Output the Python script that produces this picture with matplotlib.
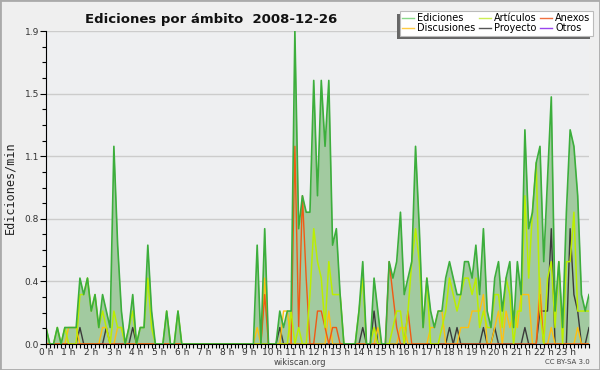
import numpy as np
import matplotlib
matplotlib.use('Agg')
import matplotlib.pyplot as plt
from matplotlib.patches import Rectangle
from matplotlib.ticker import FixedLocator, MultipleLocator

# ediciones por minuto, un valor cada 10 minutos (00:00 .. 24:00)
ediciones = ([0.1, 0, 0, 0.1, 0, 0.1, 0.1, 0.1, 0.1, 0.4, 0.3, 0.4,
              0.2, 0.3, 0.1, 0.3, 0.2, 0.1, 1.2, 0.6, 0.2, 0, 0.1, 0.3,
              0, 0.1, 0.1, 0.6, 0.2, 0, 0, 0, 0.2, 0, 0, 0.2]
             + [0] * 20 +
             [0.6, 0, 0.7, 0,
              0, 0, 0.2, 0.1, 0.2, 0.2, 1.9, 0.7, 0.9, 0.8, 0.8, 1.6,
              0.9, 1.6, 1.2, 1.6, 0.6, 0.7, 0.3, 0, 0, 0, 0, 0.2,
              0.5, 0, 0, 0.4, 0.2, 0, 0, 0.5, 0.4, 0.5, 0.8, 0.3,
              0.4, 0.5, 1.2, 0.7, 0.1, 0.4, 0.2, 0.1, 0.2, 0.2, 0.4, 0.5,
              0.4, 0.3, 0.3, 0.5, 0.5, 0.4, 0.6, 0.3, 0.7, 0.2, 0.1, 0.4,
              0.5, 0.2, 0.4, 0.5, 0.1, 0.5, 0.3, 1.3, 0.7, 0.8, 1.1, 1.2,
              0.5, 1.0, 1.5, 0.2, 0.5, 0.1, 0.8, 1.3, 1.2, 0.9, 0.3, 0.2,
              0.3])

articulos = ([0.1, 0, 0, 0.1, 0, 0.1, 0, 0, 0, 0.3, 0.3, 0.4,
              0.2, 0.3, 0.1, 0.2, 0.1, 0, 0.2, 0.1, 0.1, 0, 0.1, 0.2,
              0, 0.1, 0.1, 0.4, 0.1, 0, 0, 0, 0.2, 0, 0, 0.2]
             + [0] * 29 +
             [0.2, 0, 0.1, 0, 0, 0.3, 0.7,
              0.5, 0.4, 0.1, 0.5, 0.3, 0.3, 0.3, 0, 0, 0, 0, 0.2,
              0.4, 0, 0, 0.1, 0, 0, 0, 0, 0.1, 0.2, 0.2, 0,
              0.2, 0.5, 0.7, 0.5, 0.1, 0.4, 0, 0, 0, 0.1, 0.2, 0.4,
              0.3, 0.2, 0.3, 0.4, 0.4, 0.3, 0.4, 0.1, 0.2, 0.1, 0.1, 0.3,
              0.3, 0.1, 0.4, 0.3, 0, 0.2, 0.2, 0.9, 0.4, 0.8, 1.1, 0.2,
              0, 0.4, 0.5, 0.1, 0.5, 0, 0.5, 0.5, 0.8, 0.2, 0.2, 0.2,
              0.2])

anexos = ([0] * 58 +
          [0.3, 0,
           0, 0, 0, 0, 0, 0, 1.2, 0.1, 0.9, 0.4, 0, 0,
           0.2, 0.2, 0.1, 0, 0.1, 0.1, 0, 0, 0, 0, 0, 0,
           0, 0, 0, 0, 0, 0, 0, 0.5, 0.3, 0.1, 0, 0,
           0.2] + [0] * 34 + [0.3] + [0] * 13)

discusiones = ([0, 0, 0, 0, 0, 0, 0.1, 0.1, 0.1, 0, 0, 0,
                0, 0, 0, 0.1, 0.1, 0, 0, 0.1, 0.1, 0, 0, 0]
               + [0] * 32 +
               [0.1, 0, 0.4, 0,
                0, 0, 0, 0.2, 0.2, 0, 0, 0, 0, 0, 0, 0,
                0, 0, 0, 0.2, 0, 0, 0, 0, 0, 0, 0, 0,
                0, 0, 0, 0, 0.1, 0, 0, 0, 0, 0, 0.1, 0.1,
                0, 0, 0, 0, 0, 0, 0.1, 0.1, 0.2, 0.2, 0, 0,
                0, 0, 0.1, 0.1, 0.1, 0.2, 0.2, 0.2, 0.3, 0, 0, 0.1,
                0.2, 0, 0.2, 0.1, 0.2, 0.1, 0.3, 0.3, 0.3, 0, 0, 0.4,
                0, 0, 0.1, 0, 0, 0, 0, 0, 0, 0.1, 0, 0,
                0])

proyecto = ([0, 0, 0, 0, 0, 0, 0, 0, 0, 0.1, 0, 0,
             0, 0, 0, 0, 0.1, 0, 0, 0, 0, 0, 0, 0.1]
            + [0] * 38 + [0.1] + [0] * 21 +
            [0.1, 0, 0, 0.2, 0, 0, 0, 0, 0, 0, 0, 0,
             0, 0, 0, 0, 0, 0, 0, 0, 0, 0, 0, 0.1,
             0, 0.1, 0, 0, 0, 0, 0, 0, 0.1, 0, 0, 0.1,
             0, 0, 0, 0, 0, 0, 0, 0.1, 0, 0, 0, 0.2,
             0.2, 0.2, 0.7, 0, 0, 0, 0, 0.7, 0.3, 0.2, 0, 0,
             0.1])

otros = [0] * 145

horas = np.arange(len(ediciones)) / 6.0

ytick_vals = [0, 0.38, 0.76, 1.14, 1.52, 1.9]
ytick_labels = ['0.0', '0.4', '0.8', '1.1', '1.5', '1.9']
xtick_labels = ['%d h' % h for h in range(24)]

fig = plt.figure(figsize=(6, 3.7), dpi=100, facecolor='#efefef')
ax = fig.add_axes([46/600, 26/370, 543/600, 313/370], facecolor='#eeeff1')

ax.fill_between(horas, ediciones, color='#a2caa0', lw=0, zorder=1)
ax.plot(horas, otros, color='#9944ee', lw=1, zorder=2)
ax.plot(horas, proyecto, color='#3a3a3a', lw=1, zorder=3)
ax.plot(horas, discusiones, color='#ffc010', lw=1, zorder=4)
ax.plot(horas, anexos, color='#f05a14', lw=1, zorder=5)
ax.plot(horas, articulos, color='#bbee00', lw=1.1, zorder=6)
ax.plot(horas, ediciones, color='#3cae3c', lw=1.2, zorder=7)

ax.set_xlim(0, 24)
ax.set_ylim(0, 1.9)
ax.yaxis.set_major_locator(FixedLocator(ytick_vals))
ax.set_yticklabels(ytick_labels)
ax.yaxis.set_minor_locator(MultipleLocator(0.095))
ax.xaxis.set_major_locator(FixedLocator(range(24)))
ax.set_xticklabels(xtick_labels)
ax.xaxis.set_minor_locator(MultipleLocator(1/6))
ax.tick_params(axis='both', which='both', direction='out', colors='black',
               labelcolor='#333333', labelsize=6.5, width=0.8)
ax.tick_params(axis='y', which='major', length=4, pad=1)
ax.tick_params(axis='y', which='minor', length=3)
ax.tick_params(axis='x', which='both', length=3, pad=0)
ax.grid(axis='y', color='#cccccc', lw=1, zorder=0)
ax.set_axisbelow(True)
for s in ['top', 'right']:
    ax.spines[s].set_visible(False)
for s in ['left', 'bottom']:
    ax.spines[s].set_color('black')
    ax.spines[s].set_zorder(10)

ax.set_ylabel('Ediciones/min', family='DejaVu Sans Mono', fontsize=8.5,
              color='#222222', labelpad=6)

fig.text(85/600, 1 - 20/370, 'Ediciones por ámbito  2008-12-26',
         fontsize=9.5, fontweight='bold', color='#111111', va='center')
fig.text(300/600, 1 - 362.5/370, 'wikiscan.org', fontsize=6,
         color='#444444', ha='center', va='center')
fig.text(590/600, 1 - 362.5/370, 'CC BY-SA 3.0', fontsize=5,
         color='#444444', ha='right', va='center')

# leyenda: columnas Ediciones/Discusiones, Artículos/Proyecto, Anexos/Otros
handles = [plt.Line2D([], [], color=c, lw=1) for c in
           ['#88d888', '#ffcc44', '#ccee55', '#555555', '#f07040', '#9944ee']]
names = ['Ediciones', 'Discusiones', 'Artículos', 'Proyecto', 'Anexos', 'Otros']
leg = fig.legend(handles, names, ncol=3, loc='upper right',
                 bbox_to_anchor=(593/600, 1 - 11/370), fontsize=7,
                 frameon=True, fancybox=False, edgecolor='#bbbbbb',
                 framealpha=1, handlelength=1.2, handletextpad=0.35,
                 columnspacing=0.35, labelspacing=0.0, borderpad=0.25,
                 borderaxespad=0)
leg.get_frame().set_linewidth(0.8)

fig.canvas.draw()
bb = leg.get_window_extent()
fig.patches.append(Rectangle((bb.x0 - 3, bb.y0 - 3), bb.width, bb.height,
                             transform=None, facecolor='#666666',
                             edgecolor='none', zorder=0))
leg.set_zorder(5)

fig.patches.append(Rectangle((0, 0), 1, 1, transform=fig.transFigure,
                             fill=False, edgecolor='#aaaaaa', lw=2))

fig.savefig('out.png', dpi=100, facecolor=fig.get_facecolor())
